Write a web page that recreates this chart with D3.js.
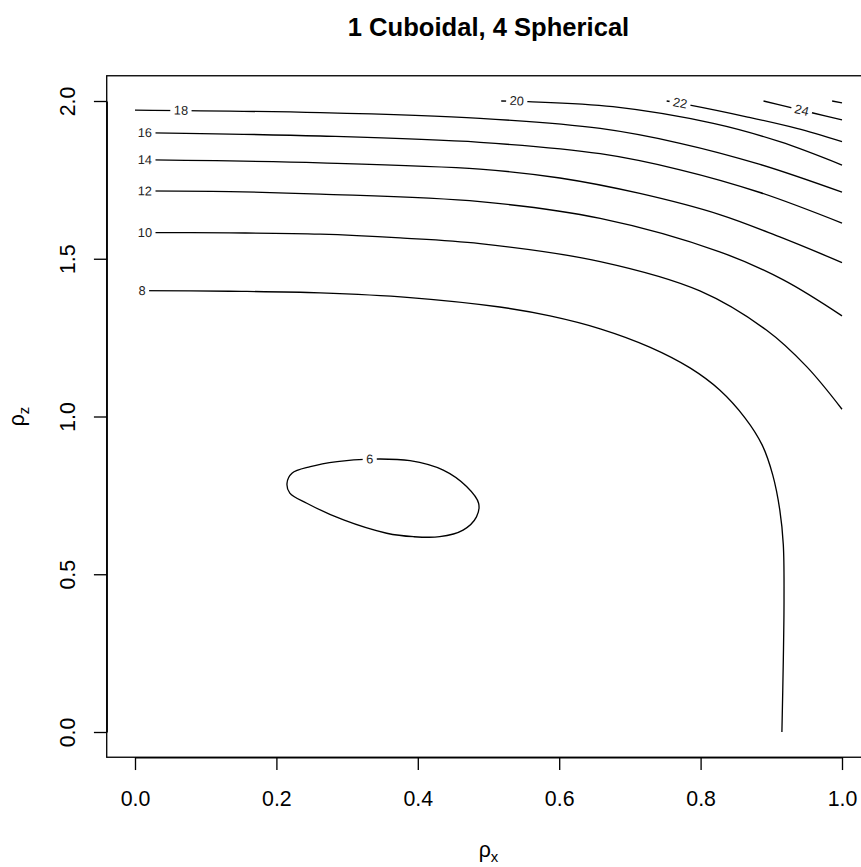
<!DOCTYPE html>
<html>
<head>
<meta charset="utf-8">
<script src="https://cdn.jsdelivr.net/npm/d3@7"></script>
<style>
  body { margin: 0; background: white; }
  text { font-family: "Liberation Sans", Arial, sans-serif; }
</style>
</head>
<body>
<div id="chart"></div>
<script>
// tick values
var xTicks = [0, 0.2, 0.4, 0.6, 0.8, 1.0];
var yTicks = [0, 0.5, 1.0, 1.5, 2.0];

// contour lines, points are [rho_x, rho_z]
var c6 = [[0.332, 0.865], [0.389, 0.860], [0.436, 0.830], [0.469, 0.778], [0.486, 0.725],
  [0.483, 0.682], [0.464, 0.640], [0.431, 0.619], [0.394, 0.619], [0.356, 0.630],
  [0.295, 0.672], [0.243, 0.725], [0.219, 0.757], [0.215, 0.788], [0.222, 0.820],
  [0.248, 0.841], [0.286, 0.857]];
var c8 = [[0.000, 1.399], [0.134, 1.397], [0.262, 1.392], [0.389, 1.377], [0.516, 1.347],
  [0.587, 1.319], [0.658, 1.278], [0.728, 1.220], [0.785, 1.154], [0.827, 1.084],
  [0.863, 0.995], [0.887, 0.910], [0.902, 0.815], [0.912, 0.704], [0.917, 0.593],
  [0.918, 0.418], [0.917, 0.228], [0.915, 0.000]];
var c10 = [[0.000, 1.583], [0.134, 1.582], [0.262, 1.578], [0.375, 1.566], [0.488, 1.548],
  [0.658, 1.491], [0.799, 1.398], [0.893, 1.274], [0.950, 1.158], [1.000, 1.023]];
var c12 = [[0.000, 1.715], [0.134, 1.713], [0.262, 1.705], [0.488, 1.681], [0.658, 1.628],
  [0.827, 1.522], [0.917, 1.433], [1.000, 1.319]];
var c14 = [[0.000, 1.814], [0.262, 1.804], [0.488, 1.784], [0.601, 1.756], [0.714, 1.707],
  [0.827, 1.640], [0.912, 1.569], [1.000, 1.488]];
var c16 = [[0.000, 1.900], [0.262, 1.889], [0.488, 1.869], [0.658, 1.833], [0.771, 1.782],
  [0.884, 1.710], [1.000, 1.613]];
var c18 = [[0.000, 1.971], [0.262, 1.963], [0.488, 1.945], [0.658, 1.913], [0.771, 1.866],
  [0.884, 1.799], [1.000, 1.711]];
var c20 = [[0.518, 2.000], [0.556, 1.998], [0.676, 1.982], [0.818, 1.929], [0.912, 1.871],
  [1.000, 1.797]];
var c22 = [[0.752, 2.000], [0.785, 1.987], [0.865, 1.950], [0.936, 1.913], [1.000, 1.871]];
var c24 = [[0.889, 2.000], [0.922, 1.982], [0.959, 1.962], [1.000, 1.940]];
var c26 = [[0.986, 2.000], [1.000, 1.994]];

var contours = [
  { level: 6, pts: c6, closed: true },
  { level: 8, pts: c8 },
  { level: 10, pts: c10 },
  { level: 12, pts: c12 },
  { level: 14, pts: c14 },
  { level: 16, pts: c16 },
  { level: 18, pts: c18 },
  { level: 20, pts: c20 },
  { level: 22, pts: c22 },
  { level: 24, pts: c24 },
  { level: 26, pts: c26 }
];

// where each contour label sits
var labelLevels = [6, 8, 10, 12, 14, 16, 18, 20, 22, 24];
var labelX = [0.332, 0.010, 0.014, 0.014, 0.014, 0.014, 0.065, 0.540, 0.771, 0.943];
var labelY = [0.865, 1.399, 1.583, 1.715, 1.814, 1.900, 1.971, 2.001, 1.994, 1.971];

var width = 861, height = 867;
var baseFont = 21.33;
var lineH = 25.6;

var svg = d3.select("#chart").append("svg")
  .attr("width", width)
  .attr("height", height);

var x = d3.scaleLinear().domain([0, 1]).range([135, 842]);
var y = d3.scaleLinear().domain([0, 2]).range([732, 101]);

var boxL = x(-0.04), boxR = x(1.04), boxT = y(2.08), boxB = y(-0.08);

// Title
svg.append("text")
  .attr("x", (boxL + boxR) / 2)
  .attr("y", 36)
  .attr("text-anchor", "middle")
  .attr("font-weight", "bold")
  .attr("font-size", baseFont * 1.2 + "px")
  .text("1 Cuboidal, 4 Spherical");

// Contour lines
var line = d3.line()
  .x(function (d) { return x(d[0]); })
  .y(function (d) { return y(d[1]); });

contours.forEach(function (c) {
  svg.append("path")
    .attr("d", line.curve(c.closed ? d3.curveCatmullRomClosed : d3.curveCatmullRom)(c.pts))
    .attr("fill", "none")
    .attr("stroke", "black")
    .attr("stroke-width", 1.33);
});

// Contour labels, broken into the line
labelLevels.forEach(function (lev, i) {
  var c = contours.find(function (d) { return d.level === lev; });
  var px = x(labelX[i]), py = y(labelY[i]);
  var pts = c.pts.map(function (p) { return [x(p[0]), y(p[1])]; });
  var best = 0, bestD = Infinity;
  pts.forEach(function (p, j) {
    var dd = (p[0] - px) * (p[0] - px) + (p[1] - py) * (p[1] - py);
    if (dd < bestD) { bestD = dd; best = j; }
  });
  var n = pts.length;
  var a, b;
  if (c.closed) {
    a = pts[(best - 1 + n) % n]; b = pts[(best + 1) % n];
  } else {
    a = pts[Math.max(0, best - 1)]; b = pts[Math.min(n - 1, best + 1)];
  }
  var ang = Math.atan2(b[1] - a[1], b[0] - a[0]) * 180 / Math.PI;
  if (ang > 90) ang -= 180;
  if (ang < -90) ang += 180;

  var g = svg.append("g")
    .attr("transform", "translate(" + px + "," + py + ") rotate(" + ang + ")");
  var rect = g.append("rect").attr("fill", "white");
  var t = g.append("text")
    .attr("text-anchor", "middle")
    .attr("dy", "0.35em")
    .attr("font-size", baseFont * 0.6 + "px")
    .attr("fill", "#222")
    .text(lev);
  var w = t.node().getComputedTextLength();
  rect.attr("x", -w / 2 - 3.5).attr("y", -5).attr("width", w + 7).attr("height", 10);
});

// Box
svg.append("rect")
  .attr("x", boxL)
  .attr("y", boxT)
  .attr("width", boxR - boxL)
  .attr("height", boxB - boxT)
  .attr("fill", "none")
  .attr("stroke", "black")
  .attr("stroke-width", 1.33);

// Axes
var xAxis = svg.append("g")
  .attr("transform", "translate(0," + boxB + ")")
  .call(d3.axisBottom(x).tickValues(xTicks).tickFormat(d3.format(".1f"))
    .tickSize(12.8).tickSizeOuter(0));
xAxis.selectAll("text")
  .attr("y", 48.3)
  .attr("dy", null)
  .attr("font-size", baseFont + "px")
  .attr("font-family", "Liberation Sans, Arial, sans-serif")
  .attr("fill", "black");

var yAxis = svg.append("g")
  .attr("transform", "translate(" + boxL + ",0)")
  .call(d3.axisLeft(y).tickValues(yTicks).tickFormat(d3.format(".1f"))
    .tickSize(12.8).tickSizeOuter(0));
yAxis.selectAll("text")
  .attr("x", null)
  .attr("dy", null)
  .attr("text-anchor", "middle")
  .attr("transform", "translate(-31.7,0) rotate(-90)")
  .attr("font-size", baseFont + "px")
  .attr("font-family", "Liberation Sans, Arial, sans-serif")
  .attr("fill", "black");

[xAxis, yAxis].forEach(function (ax) {
  ax.selectAll("path, line").attr("stroke", "black").attr("stroke-width", 1.33);
});

// Axis titles
var xt = svg.append("text")
  .attr("x", (boxL + boxR) / 2)
  .attr("y", boxB + 48.3 + 2 * lineH)
  .attr("text-anchor", "middle")
  .attr("font-size", baseFont + "px");
xt.append("tspan").text("ρ");
xt.append("tspan").attr("font-size", baseFont * 0.7 + "px").attr("dy", 5).text("x");

var yt = svg.append("text")
  .attr("transform", "translate(" + (boxL - 31.7 - 2 * lineH) + "," + (boxT + boxB) / 2 + ") rotate(-90)")
  .attr("text-anchor", "middle")
  .attr("font-size", baseFont + "px");
yt.append("tspan").text("ρ");
yt.append("tspan").attr("font-size", baseFont * 0.7 + "px").attr("dy", 5).text("z");
</script>
</body>
</html>
